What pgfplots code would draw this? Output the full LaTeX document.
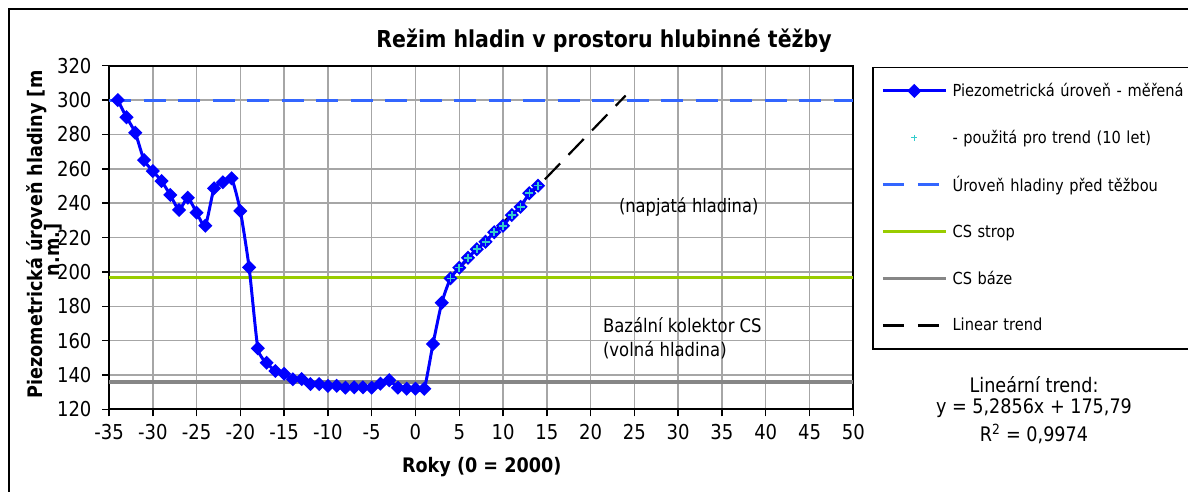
\documentclass[border=0pt]{standalone}
\usepackage{fontspec}
\setmainfont{DejaVu Sans}[FakeStretch=0.88]
\usepackage{pgfplots}
\pgfplotsset{compat=1.18}
\definecolor{mblue}{RGB}{0,0,255}
\definecolor{lblue}{RGB}{51,102,255}
\definecolor{cgreen}{RGB}{153,204,0}
\definecolor{cgrey}{RGB}{134,134,134}
\definecolor{ccyan}{RGB}{51,204,204}
\definecolor{gridc}{RGB}{166,166,166}
\begin{document}
\begin{tikzpicture}[x=1pt,y=1pt]
\useasboundingbox (0,0) rectangle (1188,492);
\fill[white] (0,0) rectangle (1188,492);
\draw[line width=2pt] (9,-20) -- (9,483) -- (1210,483);
\begin{axis}[
  at={(109pt,82.5pt)}, anchor=south west, scale only axis,
  width=744.3pt, height=343.8pt,
  xmin=-35, xmax=50, ymin=120, ymax=320,
  xtick={-35,-30,...,50}, ytick={120,140,...,320},
  grid=major, major grid style={gridc, line width=1.5pt},
  axis line style={black, line width=2pt},
  tick align=outside, xtick pos=bottom, ytick pos=left,
  major tick length=7pt, tick style={black, line width=1.5pt},
  /pgf/number format/assume math mode=true,
  tick label style={font=\fontsize{20.5}{20.5}\selectfont},
  xticklabel style={yshift=-4.5pt},
  yticklabel style={xshift=-7pt},
  legend style={at={(1.02555,0.9971)}, anchor=north west, draw=black,
    line width=1.5pt, inner xsep=8pt, inner ysep=0pt,
    font=\fontsize{16.6}{18}\selectfont,
    nodes={anchor=west, minimum height=46.9pt, inner sep=0pt, text width=300pt},
    column sep=5pt, row sep=0pt},
  legend image code/.code={\draw[mark repeat=2, mark phase=2, #1] plot coordinates {(0pt,0pt) (31.5pt,0pt) (63pt,0pt)};},
]
\addlegendimage{mblue, line width=3pt, mark=square*, mark size=3.5pt, mark options={rotate=45, solid}}
\addlegendentry{Piezometrická úroveň - měřená}
\addlegendimage{only marks, ccyan, mark=+, mark size=3pt, mark options={line width=1.3pt}}
\addlegendentry{- použitá pro trend (10 let)}
\addlegendimage{lblue, line width=3.5pt, dash pattern=on 21.5pt off 13.5pt}
\addlegendentry{Úroveň hladiny před těžbou}
\addlegendimage{cgreen, line width=3pt}
\addlegendentry{CS strop}
\addlegendimage{cgrey, line width=3pt}
\addlegendentry{CS báze}
\addlegendimage{black, line width=3pt, dash pattern=on 21.5pt off 13.5pt}
\addlegendentry{Linear trend}

\addplot[forget plot, lblue, line width=3pt, dash pattern=on 22pt off 12.5pt] coordinates {(-35,300) (50,300)};
\addplot[forget plot, cgreen, line width=3pt] coordinates {(-35,197) (50,197)};
\addplot[forget plot, cgrey, line width=3.3pt] coordinates {(-35,136) (50,136)};
\addplot[forget plot, black, line width=2.2pt, dash pattern=on 22pt off 12pt] coordinates {(4,196.93) (24,302.64)};

\addplot[forget plot, mblue, line width=3pt, smooth, tension=0.35, mark=square*, mark size=3.5pt, mark options={rotate=45, solid}] coordinates {
(-34,300.0) (-33,290.0) (-32,281.0) (-31,265.1) (-30,258.7) (-29,252.9) (-28,244.8) (-27,236.1)
(-26,243.2) (-25,234.5) (-24,226.9) (-23,248.7) (-22,252.2) (-21,254.5) (-20,235.5) (-19,202.7)
(-18,155.6) (-17,147.2) (-16,142.4) (-15,140.8) (-14,137.6) (-13,137.7) (-12,134.8) (-11,134.8)
(-10,133.7) (-9,133.8) (-8,132.7) (-7,132.9) (-6,132.9) (-5,132.7) (-4,135.0) (-3,137.0)
(-2,132.7) (-1,132.1) (0,132.1) (1,132.1) (2,158.1) (3,182.1) (4,196.3) (5,202.5)
(6,208.3) (7,213.2) (8,217.6) (9,223.1) (10,226.9) (11,233.1) (12,237.9) (13,245.8) (14,250.2)
};
\addplot[forget plot, only marks, ccyan, mark=+, mark size=4pt, mark options={line width=1.6pt}] coordinates {
(4,196.3) (5,202.5) (6,208.3) (7,213.2) (8,217.6) (9,223.1) (10,226.9) (11,233.1) (12,237.9) (13,245.8) (14,250.2)
};

\node[font=\fontsize{18.5}{20}\selectfont] at (axis cs:31.2,238) {(napjatá hladina)};
\node[font=\fontsize{18.7}{24}\selectfont, align=left, anchor=west, inner sep=0pt] at (axis cs:21.4,161.2) {Bazální kolektor CS\\(volná hladina)};
\end{axis}
\node[font=\bfseries\fontsize{23.3}{24}\selectfont] at (604,451) {Režim hladin v prostoru hlubinné těžby};
\node[font=\bfseries\fontsize{20}{20}\selectfont] at (481.7,25.3) {Roky (0 = 2000)};
\node[font=\bfseries\fontsize{20}{20}\selectfont, rotate=90] at (37,257.5) {Piezometrická úroveň hladiny [m};
\node[font=\bfseries\fontsize{20}{20}\selectfont, rotate=90] at (53,242) {n.m.]};
\node[font=\fontsize{20}{20}\selectfont] at (1034,107) {Lineární trend:};
\node[font=\fontsize{20}{20}\selectfont] at (1034,83.7) {y = 5,2856x + 175,79};
\node[font=\fontsize{20}{20}\selectfont] at (1034,58) {R\textsuperscript{2} = 0,9974};
\end{tikzpicture}
\end{document}
